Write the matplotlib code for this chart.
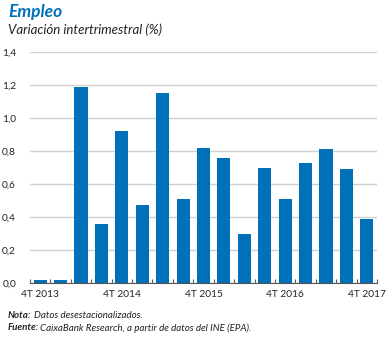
import matplotlib
matplotlib.use("Agg")
import matplotlib.pyplot as plt

# Data
quarters = ["4T 2013", "1T 2014", "2T 2014", "3T 2014", "4T 2014", "1T 2015", "2T 2015",
            "3T 2015", "4T 2015", "1T 2016", "2T 2016", "3T 2016", "4T 2016",
            "1T 2017", "2T 2017", "3T 2017", "4T 2017"]
values = [0.02, 0.02, 1.19, 0.36, 0.92, 0.47, 1.15, 0.51, 0.82, 0.76, 0.30, 0.70,
          0.51, 0.73, 0.81, 0.69, 0.39]
shown_labels = ["4T 2013", "4T 2014", "4T 2015", "4T 2016", "4T 2017"]
y_ticks = [0.0, 0.2, 0.4, 0.6, 0.8, 1.0, 1.2, 1.4]

blue = "#0070b8"
plt.rcParams["font.family"] = ["Lato", "DejaVu Sans"]

fig = plt.figure(figsize=(3.88, 3.38), dpi=100)
ax = fig.add_axes([30 / 388, 1 - 283 / 338, 347 / 388, 231 / 338])

x = list(range(len(values)))
ax.bar(x, values, width=0.64, color=blue, zorder=3)

ax.set_xlim(-0.5, len(values) - 0.5)
ax.set_ylim(0, 1.4)
ax.set_yticks(y_ticks)
ax.set_yticklabels([f"{v:.1f}".replace(".", ",") for v in y_ticks], fontsize=7.3, color="#222222")
ax.grid(axis="y", color="#d0d0d0", linewidth=1, zorder=0)
ax.tick_params(axis="y", length=0, pad=10)

# label positions
lab_pos = [quarters.index(q) for q in shown_labels]
ax.set_xticks(lab_pos)
ax.set_xticklabels(shown_labels, fontsize=7.3, color="#222222")
ax.tick_params(axis="x", length=0, pad=5)
# small upward ticks between bars
ax.set_xticks([i - 0.5 for i in range(len(values) + 1)], minor=True)
ax.tick_params(axis="x", which="minor", direction="in", length=3, color="#555555", width=0.8)

for s in ["top", "right", "left"]:
    ax.spines[s].set_visible(False)
ax.spines["bottom"].set_color("#555555")
ax.spines["bottom"].set_linewidth(0.8)
ax.spines["bottom"].set_zorder(4)

fig.text(8 / 388, 1 - 12 / 338, "Empleo", fontsize=12.5, fontweight="bold", fontstyle="italic",
         color=blue, va="center")
fig.text(8 / 388, 1 - 30 / 338, "Variación intertrimestral (%)", fontsize=9.5, fontstyle="italic",
         color="#222222", va="center")

# notes: bold label followed by italic text
renderer = fig.canvas.get_renderer()
for ypx, label, rest, gap in [(316, "Nota:", "Datos desestacionalizados.", 3),
                              (328, "Fuente:", "CaixaBank Research, a partir de datos del INE (EPA).", 1)]:
    t = fig.text(8 / 388, 1 - ypx / 338, label, fontsize=7, fontweight="bold", fontstyle="italic",
                 color="#222222", va="center")
    bb = t.get_window_extent(renderer)
    fig.text((bb.x1 + gap) / fig.bbox.width, 1 - ypx / 338, rest, fontsize=7, fontstyle="italic",
             color="#222222", va="center")

fig.savefig("out.png", dpi=100)
